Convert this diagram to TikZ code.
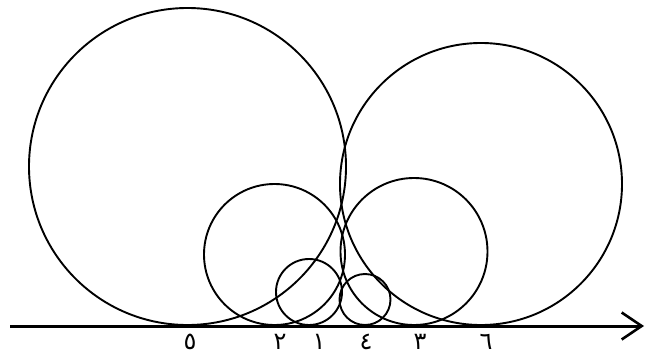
\documentclass[tikz,border=0pt]{standalone}
\usepackage{fontspec}
\newfontfamily\arabicfont[Script=Arabic]{DejaVu Sans}
\usetikzlibrary{arrows.meta}
\tikzset{
  tgaxis/.style={line width=3pt, draw=black, -{Straight Barb[length=20pt,width=27pt,line width=2.6pt]}},
  tgring/.style={circle, draw=black, line width=1.9pt, inner sep=0pt, outer sep=0pt},
  tglabel/.style={font=\arabicfont\fontsize{24}{24}\selectfont, inner sep=0pt, anchor=base, text depth=0pt, text height=17pt},
}
\begin{document}
\begin{tikzpicture}[x=1pt,y=-1pt]
\useasboundingbox (0,0) rectangle (646,356);
\coordinate (a0) at (10.000,326.000);
\coordinate (a1) at (644.000,326.000);
\node[tgring, minimum size=317pt] (c5) at (187.500,166.500) {};
\node[tgring, minimum size=282pt] (c6) at (481.000,184.000) {};
\node[tgring, minimum size=141pt] (c2) at (274.500,254.500) {};
\node[tgring, minimum size=147pt] (c3) at (414.000,251.500) {};
\node[tgring, minimum size=66pt] (c1) at (309.000,292.000) {};
\node[tgring, minimum size=51pt] (c4) at (365.000,299.500) {};
\node[tglabel] (l5) at (190.000,349.000) {٥};
\node[tglabel] (l2) at (280.000,349.000) {٢};
\node[tglabel] (l1) at (319.000,349.000) {١};
\node[tglabel] (l4) at (366.000,349.000) {٤};
\node[tglabel] (l3) at (420.000,349.000) {٣};
\node[tglabel] (l6) at (486.000,349.000) {٦};
\draw[tgaxis] (a0) -- (a1);
\end{tikzpicture}
\end{document}
